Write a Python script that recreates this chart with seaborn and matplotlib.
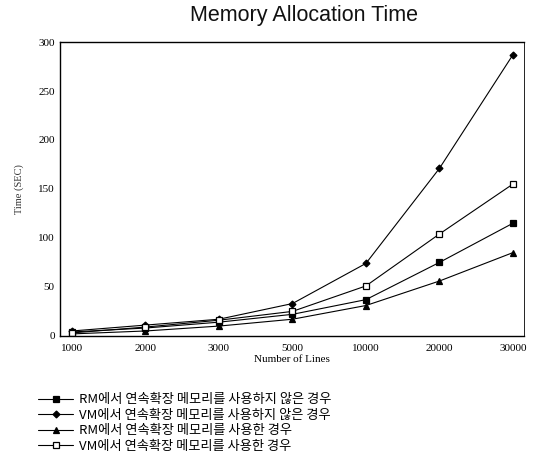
"""Memory allocation time chart, redrawn with seaborn."""

import matplotlib

matplotlib.use("Agg")
import matplotlib.pyplot as plt
import pandas as pd
import seaborn as sns

lines = ["1000", "2000", "3000", "5000", "10000", "20000", "30000"]
rm_no_ext = [4, 8, 14, 22, 37, 75, 115]
vm_no_ext = [5, 11, 17, 33, 74, 171, 287]
rm_ext = [2, 5, 10, 17, 31, 56, 85]
vm_ext = [3, 9, 16, 25, 51, 104, 155]

series_names = [
    "RM에서 연속확장 메모리를 사용하지 않은 경우",
    "VM에서 연속확장 메모리를 사용하지 않은 경우",
    "RM에서 연속확장 메모리를 사용한 경우",
    "VM에서 연속확장 메모리를 사용한 경우",
]
series_values = [rm_no_ext, vm_no_ext, rm_ext, vm_ext]

sns.set_style("white")
plt.rcParams["font.family"] = ["Liberation Serif", "Noto Sans CJK KR"]
plt.rcParams["text.color"] = "black"
plt.rcParams["xtick.color"] = "black"
plt.rcParams["ytick.color"] = "black"
plt.rcParams["axes.labelcolor"] = "black"

fig = plt.figure(figsize=(5.33, 4.62), dpi=100)
ax = fig.add_axes([0.113, 0.273, 0.870, 0.636])

styles = [
    dict(marker="s", markersize=4, markerfacecolor="black"),
    dict(marker="D", markersize=3.5, markerfacecolor="black"),
    dict(marker="^", markersize=4.5, markerfacecolor="black"),
    dict(marker="s", markersize=5, markerfacecolor="white"),
]

for name, values, st in zip(series_names, series_values, styles):
    df = pd.DataFrame({"lines": lines, "time": values})
    sns.lineplot(
        data=df, x="lines", y="time", ax=ax, color="black", linewidth=0.8,
        markeredgecolor="black", markeredgewidth=0.9, label=name, **st,
    )

ax.set_xlim(-0.16, 6.15)
ax.set_ylim(0, 300)
ax.set_yticks(range(0, 301, 50))
ax.tick_params(axis="y", direction="in", length=3, width=0.8, labelsize=8, pad=4)
ax.tick_params(axis="x", length=0, labelsize=8, pad=6)
for spine in ax.spines.values():
    spine.set_color("black")
    spine.set_linewidth(1.0)
ax.spines["right"].set_linewidth(0.6)

ax.set_xlabel("Number of Lines", fontsize=8, labelpad=1)
ax.set_ylabel("Time (SEC)", fontsize=7.5, color="#333333", labelpad=10)
fig.text(0.57, 0.967, "Memory Allocation Time", ha="center", va="center",
         fontsize=15.5, family="Liberation Sans", color="#111111")

ax.legend_.remove()
handles, labels = ax.get_legend_handles_labels()
fig.legend(
    handles, labels, loc="upper left", bbox_to_anchor=(0.072, 0.149),
    frameon=False, handlelength=2.6, handletextpad=0.45, labelspacing=0.2,
    borderaxespad=0, borderpad=0,
    prop={"family": ["Noto Sans CJK KR"], "size": 9.5},
)

fig.savefig("out.png", dpi=100)
